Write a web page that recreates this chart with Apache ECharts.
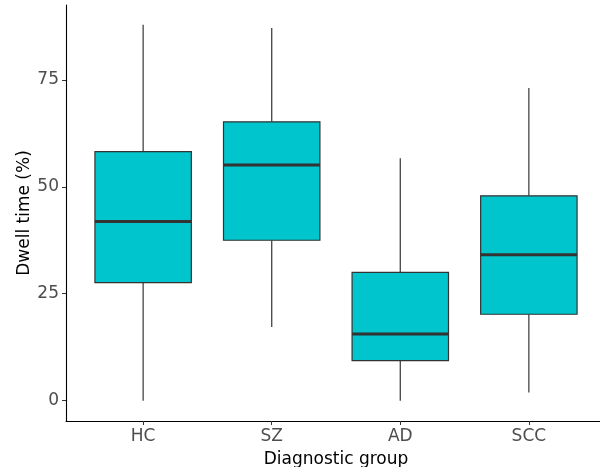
<!DOCTYPE html>
<html>
<head>
<meta charset="utf-8">
<script src="https://cdn.jsdelivr.net/npm/echarts@6/dist/echarts.min.js"></script>
<style>
  html, body { margin: 0; padding: 0; background: #fff; }
  #chart { width: 600px; height: 467px; }
</style>
</head>
<body>
<div id="chart"></div>
<script>
// diagnostic groups on the x axis
var categories = ['HC', 'SZ', 'AD', 'SCC']
// box statistics per group (dwell time, %)
var whiskerLow = [0, 17.2, 0, 1.9]
var lowerQuartile = [27.6, 37.5, 9.35, 20.2]
var medians = [41.9, 55.1, 15.6, 34.1]
var upperQuartile = [58.2, 65.2, 30.0, 47.9]
var whiskerHigh = [87.9, 87.1, 56.7, 73.1]
var yTicks = [0, 25, 50, 75]

var fontFamily = 'DejaVu Sans'
var boxFill = '#00C5CD'
var ink = '#333333'

var rows = categories.map(function (c, i) {
  return [i, whiskerLow[i], lowerQuartile[i], medians[i], upperQuartile[i], whiskerHigh[i]]
})

function renderBox(params, api) {
  var x = api.value(0)
  var lo = api.coord([x, api.value(1)])
  var q1 = api.coord([x, api.value(2)])
  var med = api.coord([x, api.value(3)])
  var q3 = api.coord([x, api.value(4)])
  var hi = api.coord([x, api.value(5)])
  var half = api.size([0.75, 0])[0] / 2 // ggplot default box width 0.75
  var whisker = { stroke: '#444', lineWidth: 1.3 }
  return {
    type: 'group',
    children: [
      { type: 'line', shape: { x1: hi[0], y1: hi[1], x2: q3[0], y2: q3[1] }, style: whisker },
      { type: 'line', shape: { x1: q1[0], y1: q1[1], x2: lo[0], y2: lo[1] }, style: whisker },
      {
        type: 'rect',
        shape: { x: q3[0] - half, y: q3[1], width: half * 2, height: q1[1] - q3[1] },
        style: { fill: boxFill, stroke: ink, lineWidth: 1.2 }
      },
      {
        type: 'line',
        shape: { x1: med[0] - half, y1: med[1], x2: med[0] + half, y2: med[1] },
        style: { stroke: ink, lineWidth: 3 }
      }
    ]
  }
}

var chart = echarts.init(document.getElementById('chart'), null, { renderer: 'canvas' })
chart.setOption({
  animation: false,
  backgroundColor: '#fff',
  textStyle: { fontFamily: fontFamily },
  grid: { left: 66, right: -6, top: 5, bottom: 46, outerBoundsMode: 'none' },
  xAxis: {
    type: 'value',
    min: -0.6, // discrete expansion like ggplot
    max: 3.6,
    name: 'Diagnostic group',
    nameLocation: 'middle',
    nameGap: 30,
    nameMoveOverlap: false,
    nameTextStyle: { fontSize: 17, color: '#000', fontFamily: fontFamily },
    axisLine: { onZero: false, lineStyle: { color: '#000', width: 1.1 } },
    axisTick: { customValues: [0, 1, 2, 3], length: 4, lineStyle: { color: ink } },
    axisLabel: {
      customValues: [0, 1, 2, 3],
      formatter: function (v) { return categories[v] },
      fontSize: 17,
      color: '#4d4d4d',
      margin: 7
    },
    splitLine: { show: false }
  },
  yAxis: {
    type: 'value',
    min: -4.75,
    max: 92.5,
    name: 'Dwell time (%)',
    nameLocation: 'middle',
    nameGap: 33,
    nameMoveOverlap: false,
    nameTextStyle: { fontSize: 17, color: '#000', fontFamily: fontFamily },
    axisLine: { show: true, onZero: false, lineStyle: { color: '#000', width: 1.1 } },
    axisTick: { show: true, customValues: yTicks, length: 4, lineStyle: { color: ink } },
    axisLabel: { customValues: yTicks, fontSize: 17, color: '#4d4d4d', margin: 7 },
    splitLine: { show: false }
  },
  series: [
    {
      type: 'custom',
      name: 'Dwell time',
      renderItem: renderBox,
      encode: { x: 0, y: [1, 2, 3, 4, 5] },
      data: rows
    }
  ]
})
</script>
</body>
</html>
